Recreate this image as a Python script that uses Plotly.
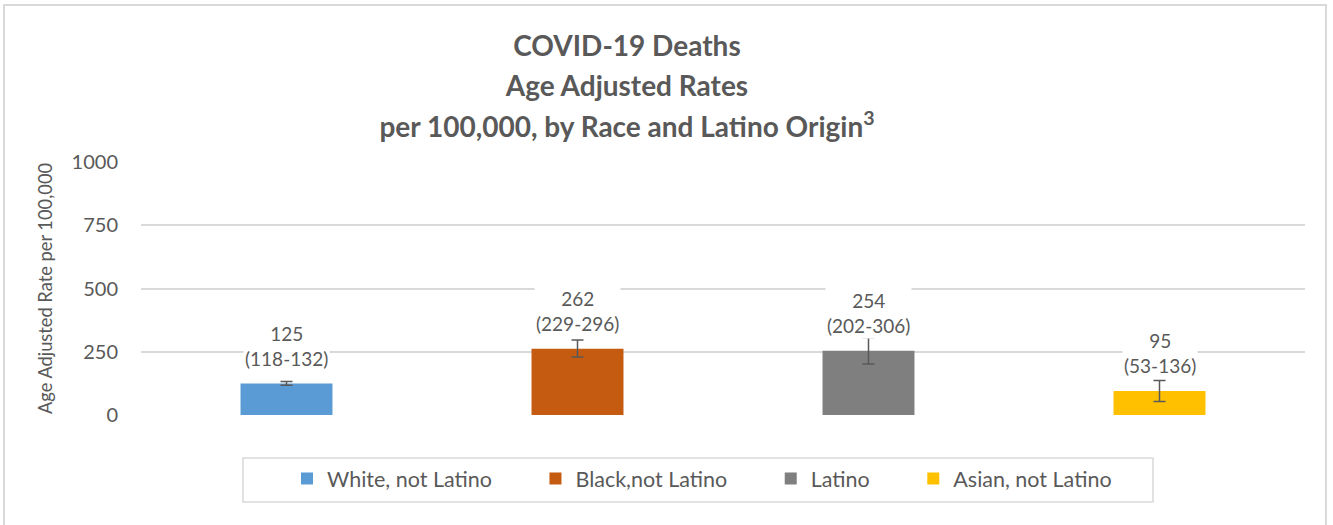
import plotly.graph_objects as go

categories = ["White, not Latino", "Black,not Latino", "Latino", "Asian, not Latino"]
rates = [125, 262, 254, 95]
lower_ci = [118, 229, 202, 53]
upper_ci = [132, 296, 306, 136]
colors = ["#5B9BD5", "#C55A11", "#7F7F7F", "#FFC000"]
y_ticks = [0, 250, 500, 750, 1000]

FONT = "Lato"
TXT = "#595959"
PAD = "\u00a0" * 7

fig = go.Figure()
for i, (cat, r, lo, hi, c) in enumerate(zip(categories, rates, lower_ci, upper_ci, colors)):
    fig.add_trace(go.Bar(
        x=[cat], y=[r], name=cat + (PAD if i < len(categories) - 1 else ""),
        marker=dict(color=c, line=dict(width=0)),
        width=0.316,
        error_y=dict(type="data", symmetric=False, array=[hi - r], arrayminus=[r - lo],
                     color=TXT, thickness=1.5, width=6),
    ))
    fig.add_annotation(x=cat, y=r, xref="x", yref="y", text=f"{r}<br>({lo}-{hi})",
                       showarrow=False, yanchor="bottom", yshift=11.5, bgcolor="white",
                       font=dict(family=FONT, size=19, color=TXT))

# outer chart border
fig.add_shape(type="rect", xref="paper", yref="paper", x0=-0.1177, x1=1.018, y0=-0.46, y1=1.6206,
              line=dict(color="#D9D9D9", width=2), fillcolor="rgba(0,0,0,0)", layer="below")
# legend box
fig.add_shape(type="rect", xref="paper", yref="paper", x0=0.0876, x1=0.8694, y0=-0.3439, y1=-0.17,
              line=dict(color="#D9D9D9", width=1.5), fillcolor="rgba(0,0,0,0)", layer="below")

title_lines = ["COVID-19 Deaths", "Age Adjusted Rates", "per 100,000, by Race and Latino Origin<sup>3</sup>"]
title_text = "<br>".join(f"<span style='font-size:28px'><b>{t}</b></span>" for t in title_lines)

fig.update_layout(
    width=1333, height=525,
    margin=dict(l=141, r=28, t=162, b=110),
    paper_bgcolor="white", plot_bgcolor="white",
    barmode="overlay",
    font=dict(family=FONT, color=TXT),
    title=dict(text=title_text,
               x=627 / 1333, xanchor="center", y=1 - 56 / 525, yanchor="top",
               font=dict(family=FONT, size=31, color=TXT)),
    xaxis=dict(showticklabels=False, showgrid=False, zeroline=False, showline=False, ticks=""),
    yaxis=dict(range=[0, 1000], tickvals=y_ticks, showgrid=True, gridcolor="#D9D9D9", gridwidth=1.5,
               zeroline=False, showline=False, ticks="", ticklabelstandoff=22,
               tickfont=dict(family=FONT, size=20, color=TXT),
               title=dict(text="Age Adjusted Rate per 100,000", standoff=14,
                          font=dict(family=FONT, size=18.3, color=TXT))),
    legend=dict(orientation="h", x=(287 - 141) / 1164, xanchor="left", y=-0.17, yanchor="top",
                borderwidth=0, bgcolor="rgba(0,0,0,0)",
                font=dict(family=FONT, size=21.5, color=TXT), itemwidth=30,
                traceorder="normal"),
)

fig.write_html("out.html", config={"displayModeBar": False},
               post_script="document.body.style.margin='0px';")
